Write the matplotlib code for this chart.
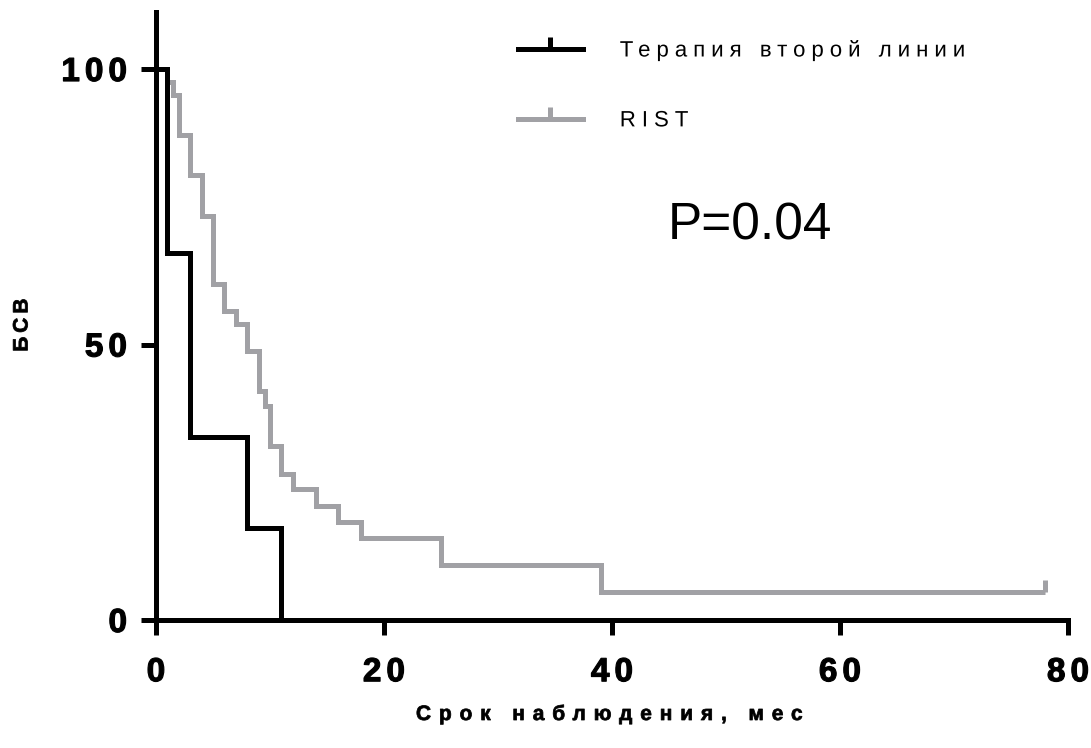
import numpy as np
import matplotlib
matplotlib.use("Agg")
import matplotlib.pyplot as plt
from matplotlib.lines import Line2D
from matplotlib.markers import TICKUP
from matplotlib.patheffects import AbstractPathEffect
from matplotlib.path import Path
from matplotlib.textpath import text_to_path
from matplotlib.font_manager import findfont, get_font

# Kaplan-Meier estimates of event-free survival, %
second_line_months = [0, 1, 3, 8, 11]
second_line_surv = [100, 66.7, 33.3, 16.7, 0]

rist_months = [0, 1, 1.5, 2, 3, 4, 5, 6, 7, 8, 9, 9.6, 10, 11, 12, 14, 16, 18, 25, 39, 78]
rist_surv = [100, 97.7, 95.3, 88.0, 80.7, 73.3, 61.0, 56.1, 53.8, 48.9, 41.6, 38.9,
             31.6, 26.5, 23.8, 20.6, 17.7, 14.9, 9.9, 5.0, 5.0]
rist_censored_months = [78]
rist_censored_surv = [5.0]

series_labels = ["Терапия второй линии", "RIST"]
x_ticks = [0, 20, 40, 60, 80]
y_ticks = [0, 50, 100]
x_label = "Срок наблюдения, мес"
y_label = "БСВ"
p_label = "P=0.04"

BLACK = "#000000"
GRAY = "#a1a1a5"
W, H = 1091, 748
LW = 3.6  # points (~5 px)

plt.rcParams["font.family"] = ["Liberation Sans", "DejaVu Sans"]


class Tracking(AbstractPathEffect):
    """Render a one-line text with extra spacing between glyphs,
    optionally thickened by an outline in the text colour."""

    def __init__(self, artist, em, stroke=0.0):
        super().__init__()
        self.artist = artist
        self.em = em
        self.stroke = stroke

    def draw_path(self, renderer, gc, tpath, affine, rgbFace=None):
        s = self.artist.get_text()
        prop = self.artist.get_fontproperties()
        font = get_font(findfont(prop))
        font.set_size(text_to_path.FONT_SCALE, text_to_path.DPI)
        glyphs, glyph_map, _ = text_to_path.get_glyphs_with_font(font, s)
        step = self.em * text_to_path.FONT_SCALE
        n = len(glyphs)
        ha = self.artist.get_horizontalalignment()
        frac = {"left": 0.0, "center": -0.5, "right": -1.0}.get(ha, 0.0)
        shift = frac * step * max(n - 1, 0)
        verts, codes = [], []
        for i, (gid, x, y, scale) in enumerate(glyphs):
            v, c = glyph_map[gid]
            if len(v) == 0:
                continue
            verts.append(np.asarray(v) * scale + [x + i * step + shift, y])
            codes.extend(c)
        if not verts:
            return
        path = Path(np.concatenate(verts), codes)
        if self.stroke > 0:
            gc0 = renderer.new_gc()
            gc0.copy_properties(gc)
            gc0.set_linewidth(renderer.points_to_pixels(self.stroke))
            gc0.set_foreground(rgbFace)
            gc0.set_joinstyle("round")
            renderer.draw_path(gc0, path, affine, rgbFace)
            gc0.restore()
        else:
            renderer.draw_path(gc, path, affine, rgbFace)


def track(text, em, stroke=0.0):
    text.set_path_effects([Tracking(text, em, stroke)])


fig = plt.figure(figsize=(W / 100, H / 100), dpi=100)
ax = fig.add_axes([156 / W, 1 - 620 / H, 912 / W, (620 - 12) / H])

ax.step(rist_months, rist_surv, where="post", color=GRAY, lw=LW,
        solid_joinstyle="miter", solid_capstyle="butt", zorder=2)
ax.plot(rist_censored_months, rist_censored_surv, ls="none", marker=TICKUP,
        ms=8.5, mew=LW, color=GRAY, zorder=2)
ax.step(second_line_months, second_line_surv, where="post", color=BLACK, lw=LW,
        solid_joinstyle="miter", solid_capstyle="butt", zorder=3)

ax.set_xlim(0, 80)
ax.set_ylim(0, 110.35)
for side in ("top", "right"):
    ax.spines[side].set_visible(False)
for side in ("left", "bottom"):
    ax.spines[side].set_linewidth(LW)
    ax.spines[side].set_color(BLACK)

ax.set_xticks(x_ticks)
ax.set_yticks(y_ticks)
ax.tick_params(axis="both", direction="out", length=10.8, width=LW, color=BLACK,
               labelsize=24)
ax.tick_params(axis="x", pad=16)
ax.tick_params(axis="y", pad=10)
for lab in ax.get_xticklabels() + ax.get_yticklabels():
    lab.set_fontweight("bold")
    track(lab, 0.15, 0.6)

ax.set_xlabel(x_label, fontsize=15, fontweight="bold", va="baseline")
ax.xaxis.set_label_coords(0.498, -(720 - 620) / 608)
track(ax.xaxis.label, 0.38, 0.4)

ax.set_ylabel(y_label, fontsize=15, fontweight="bold", va="center")
ax.yaxis.set_label_coords(-(156 - 22) / 912, (620 - 325) / 608)
track(ax.yaxis.label, 0.2, 0.4)

handles = [Line2D([], [], color=BLACK, lw=LW, marker=TICKUP, ms=9, mew=LW),
           Line2D([], [], color=GRAY, lw=LW, marker=TICKUP, ms=9, mew=LW)]
leg = ax.legend(handles, series_labels, loc="upper left",
                bbox_to_anchor=(518 / W, 1 - 40 / H), bbox_transform=fig.transFigure,
                frameon=False, fontsize=16, handlelength=2.92, handletextpad=1.66,
                labelspacing=2.2, borderpad=0, borderaxespad=0, numpoints=1)
for t in leg.get_texts():
    track(t, 0.27)

fig.text(668 / W, 1 - 240 / H, p_label, fontsize=37, va="baseline", ha="left")

fig.savefig("out.png", dpi=100)
